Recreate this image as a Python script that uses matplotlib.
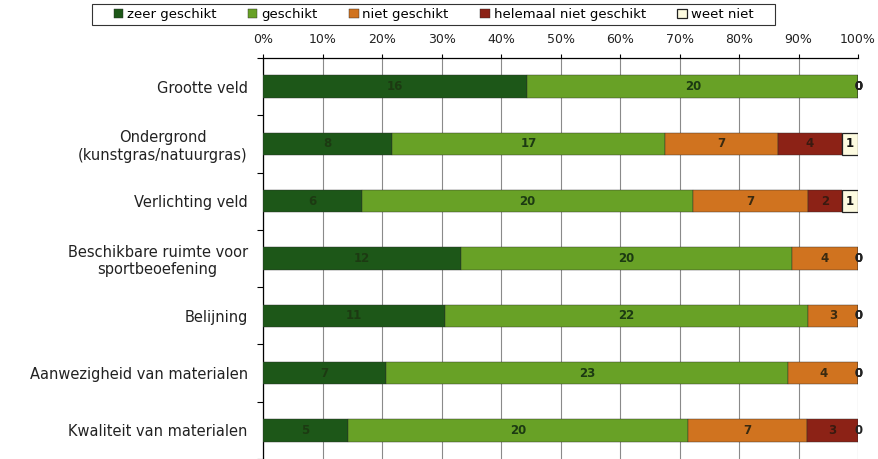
import matplotlib

matplotlib.use('Agg')
import matplotlib.pyplot as plt
from matplotlib.patches import Rectangle
import numpy as np

categories = [
    'Grootte veld',
    'Ondergrond\n(kunstgras/natuurgras)',
    'Verlichting veld',
    'Beschikbare ruimte voor\nsportbeoefening',
    'Belijning',
    'Aanwezigheid van materialen',
    'Kwaliteit van materialen',
]
series_names = ['zeer geschikt', 'geschikt', 'niet geschikt',
                'helemaal niet geschikt', 'weet niet']
zeer_geschikt = [16, 8, 6, 12, 11, 7, 5]
geschikt = [20, 17, 20, 20, 22, 23, 20]
niet_geschikt = [0, 7, 7, 4, 3, 4, 7]
helemaal_niet = [0, 4, 2, 0, 0, 0, 3]
weet_niet = [0, 1, 1, 0, 0, 0, 0]
tick_labels = [f'{p}%' for p in range(0, 101, 10)]

colors = ['#1d5718', '#68a126', '#d0731f', '#8c2216', '#fdfbe0']
label_colors = ['#1c3a12', '#1c3a12', '#3a2a10', '#3a1a10', '#111111']

counts = np.array([zeer_geschikt, geschikt, niet_geschikt, helemaal_niet, weet_niet], dtype=float)
shares = counts / counts.sum(axis=0) * 100
y = np.arange(len(categories))

fig = plt.figure(figsize=(8.79, 4.59), dpi=100)
ax = fig.add_axes([0.2992, 0.0, 0.677, 0.8736])

left = np.zeros(len(categories))
handles = []
for i, name in enumerate(series_names):
    edge = '#222222' if i == 4 else '#2a2a2a'
    lw = 0.9 if i == 4 else 0.3
    h = ax.barh(y, shares[i], left=left, height=0.39, color=colors[i],
                edgecolor=edge, linewidth=lw, label=name, zorder=3)
    handles.append(h)
    for j in range(len(categories)):
        val = int(counts[i, j])
        if val == 0:
            # zero segments collapse onto the end of the bar
            ax.text(100, y[j], '0', ha='center', va='center', fontsize=8.5,
                    fontweight='bold', color='#222222', zorder=5)
        else:
            ax.text(left[j] + shares[i, j] / 2, y[j], str(val), ha='center',
                    va='center', fontsize=8.5, fontweight='bold',
                    color=label_colors[i], zorder=5)
    left += shares[i]

ax.set_xlim(0, 100)
ax.set_ylim(len(categories) - 0.5, -0.5)
ax.set_xticks(np.arange(0, 101, 10))
ax.set_xticklabels(tick_labels, fontsize=9, color='#222222')
ax.xaxis.tick_top()
ax.tick_params(axis='x', length=3, pad=6, width=0.8)
ax.set_yticks(y)
ax.set_yticklabels(categories, fontsize=10.5, color='#222222',
                   multialignment='center')
ax.set_yticks(np.arange(-0.5, len(categories)), minor=True)
ax.tick_params(axis='y', which='major', length=0, pad=11)
ax.tick_params(axis='y', which='minor', length=4, width=0.8)
ax.grid(axis='x', color='#8a8a8a', linewidth=0.8, zorder=0)
for s in ['right', 'bottom']:
    ax.spines[s].set_visible(False)
ax.spines['left'].set_linewidth(0.9)
ax.spines['top'].set_linewidth(0.9)

# legend box spanning the top strip
fig.patches.append(Rectangle((92 / 879, 1 - 25 / 459), 683 / 879, 21 / 459,
                             transform=fig.transFigure, facecolor='white',
                             edgecolor='#333333', linewidth=0.8))
fig.legend(handles=handles, loc='center', bbox_to_anchor=(433.5 / 879, 1 - 14.5 / 459),
           ncol=5, fontsize=9.5, frameon=False,
           handlelength=0.7, handleheight=0.7, handletextpad=0.3,
           columnspacing=2.4, borderpad=0.2)

fig.savefig('out.png', dpi=100)
